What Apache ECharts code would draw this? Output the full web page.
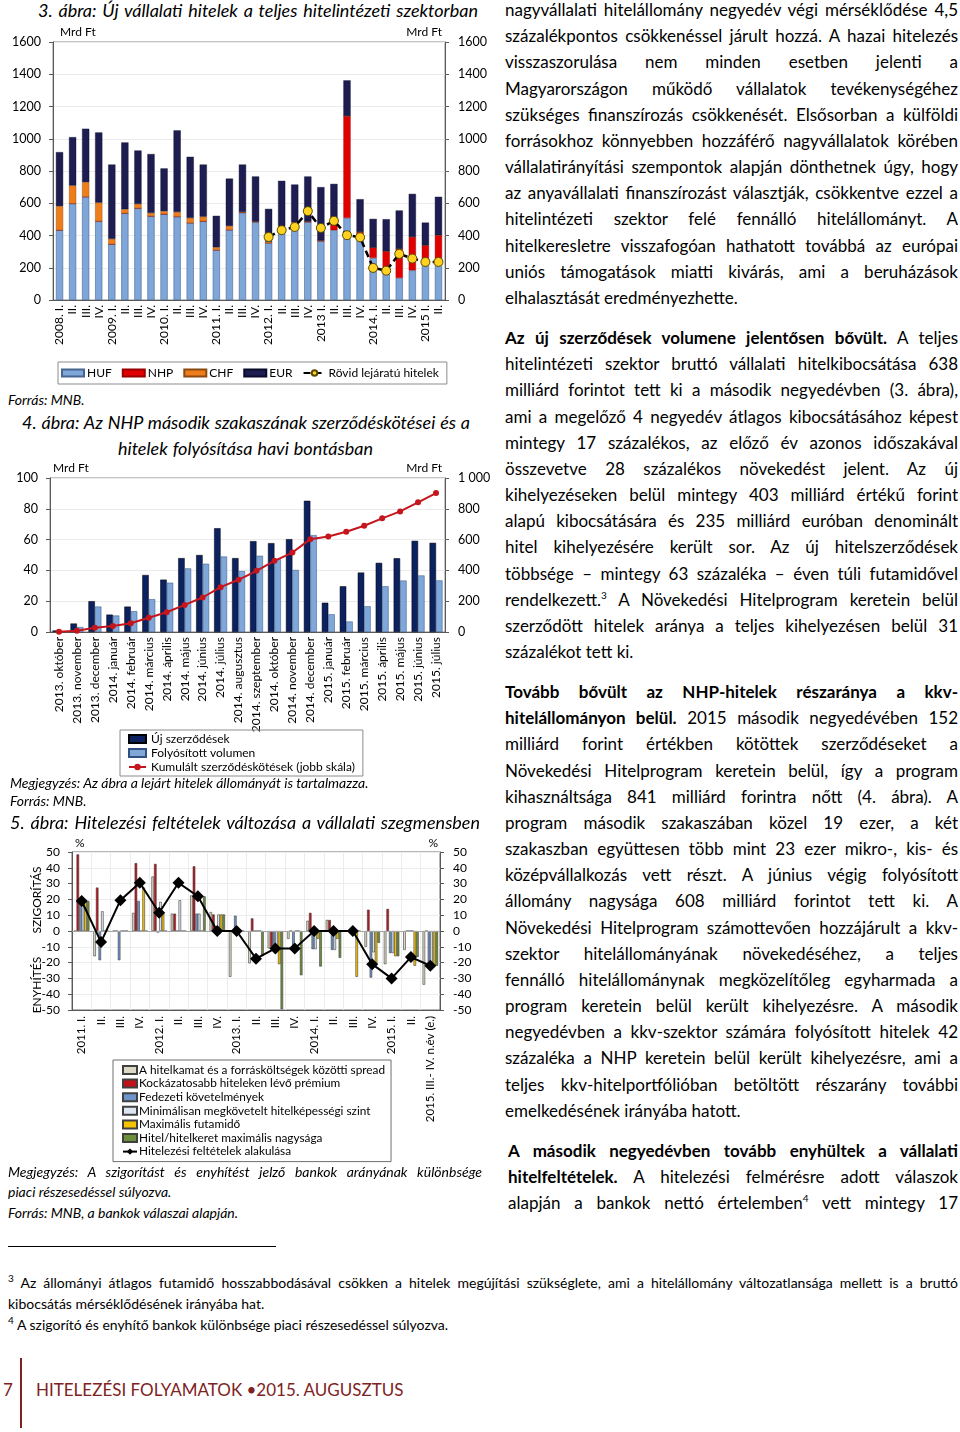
<!DOCTYPE html>
<html><head><meta charset="utf-8">
<script src="https://cdn.jsdelivr.net/npm/echarts@6/dist/echarts.min.js"></script>
<style>
html,body{margin:0;padding:0;background:#fff}
body{width:960px;height:1432px;position:relative;overflow:hidden;font-family:Lato,'Open Sans',sans-serif;color:#000}
.cap{position:absolute;font-style:italic;font-size:18px;line-height:20px;white-space:nowrap}
.note{position:absolute;font-style:italic;font-size:14px;line-height:16px;white-space:nowrap}
.j{text-align:justify;text-align-last:justify;white-space:normal}
.ln{position:absolute;left:505px;width:453px;font-size:17px;line-height:20px}
.ln.last{text-align:left;text-align-last:left}
.fn{position:absolute;font-size:14px;line-height:16px}
sup{font-size:10px;line-height:0;vertical-align:super}
.chart{position:absolute}
.foot{position:absolute;color:#7e2222;font-size:17px;line-height:20px}
</style></head>
<body>
<div class="cap j" style="left:38px;top:0px;width:440px">3. ábra: Új vállalati hitelek a teljes hitelintézeti szektorban</div>
<div id="c3" class="chart" style="left:0;top:25px;width:495px;height:362px"></div>
<div class="note" style="left:8px;top:392px">Forrás: MNB.</div>
<div class="cap j" style="left:22px;top:412px;width:448px">4. ábra: Az NHP második szakaszának szerződéskötései és a</div>
<div class="cap j" style="left:118px;top:438px;width:255px">hitelek folyósítása havi bontásban</div>
<div id="c4" class="chart" style="left:0;top:460px;width:495px;height:340px"></div>
<div class="note" style="left:10px;top:775px">Megjegyzés: Az ábra a lejárt hitelek állományát is tartalmazza.</div>
<div class="note" style="left:10px;top:793px">Forrás: MNB.</div>
<div class="cap j" style="left:10px;top:812px;width:470px">5. ábra: Hitelezési feltételek változása a vállalati szegmensben</div>
<div id="c5" class="chart" style="left:0;top:835px;width:495px;height:330px"></div>
<div class="note j" style="left:8px;top:1164px;width:474px">Megjegyzés: A szigorítást és enyhítést jelző bankok arányának különbsége</div>
<div class="note" style="left:8px;top:1184px">piaci részesedéssel súlyozva.</div>
<div class="note" style="left:8px;top:1205px">Forrás: MNB, a bankok válaszai alapján.</div>

<div id="txt"></div>

<div style="position:absolute;left:8px;top:1246px;width:268px;height:1px;background:#000"></div>
<div class="fn j" style="left:8px;top:1275px;width:950px"><sup>3</sup> Az állományi átlagos futamidő hosszabbodásával csökken a hitelek megújítási szükséglete, ami a hitelállomány változatlansága mellett is a bruttó</div>
<div class="fn" style="left:8px;top:1296px">kibocsátás mérséklődésének irányába hat.</div>
<div class="fn" style="left:8px;top:1317px"><sup>4</sup> A szigorító és enyhítő bankok különbsége piaci részesedéssel súlyozva.</div>

<div class="foot" style="left:3px;top:1380px">7</div>
<div style="position:absolute;left:20px;top:1358px;width:1.5px;height:70px;background:#7e2222"></div>
<div class="foot" style="left:36px;top:1380px">HITELEZÉSI FOLYAMATOK •2015. AUGUSZTUS</div>

<script>
// ---------- Chart 3 data ----------
const q3 = ['2008. I.','II.','III.','IV.','2009. I.','II.','III.','IV.','2010. I.','II.','III.','IV.','2011. I.','II.','III.','IV.','2012. I.','II.','III.','IV.','2013 I.','II.','III.','IV.','2014. I.','II.','III.','IV.','2015 I.','II.'];
const huf = [433,598,640,488,346,538,569,520,532,517,478,488,310,435,542,484,354,445,470,484,366,433,509,400,261,161,137,184,232,232];
const nhp = [0,0,0,0,0,0,0,0,0,0,0,0,0,0,0,0,0,0,0,0,0,51,632,22,64,141,180,207,107,170];
const chf = [149,112,91,116,33,25,27,20,19,29,31,29,17,24,4,3,8,12,12,3,3,0,0,0,0,0,0,0,0,0];
const eur = [335,300,331,435,461,414,331,365,265,506,379,323,195,294,294,279,203,282,234,279,331,236,221,203,178,199,238,267,141,238];
const rovid = [null,null,null,null,null,null,null,null,null,null,null,null,null,null,null,null,391,433,453,551,447,491,402,389,199,182,286,257,236,236];
const ticks3 = {min:0, max:1600, step:200};

// ---------- Chart 4 data ----------
const m4 = ['2013. október','2013. november','2013. december','2014. január','2014. február','2014. március','2014. április','2014. május','2014. június','2014. július','2014. augusztus','2014. szeptember','2014. október','2014. november','2014. december','2015. január','2015. február','2015. március','2015. április','2015. május','2015. június','2015. július'];
const ujSzerz = [1,5.5,20,11.3,16.5,37,34,48,50,67.4,48,59,57.7,60.3,85.2,19,29.7,38.6,44.9,47.9,59.2,57.9];
const folyos = [0.5,3.2,16.5,10.7,13.5,21.3,32,41.3,44.3,49,39.6,49.5,47.3,40.3,62.9,11.5,6.8,16.7,29.7,33.4,36.7,33.5];
const kumulalt = [1,8,28,39,57,93,128,176,224,291,339,397,462,516,603,620,651,690,738,783,842,902];

// ---------- Chart 5 data ----------
const q5 = ['2011. I.','II.','III.','IV.','2012. I.','II.','III.','IV.','2013. I.','II.','III.','IV.','2014. I.','II.','III.','IV.','2015. I.','II.','2015. III.- IV. n.év (e.)'];
const spread = [0,-16,0,11.5,34.5,11,22.5,12,-29,-20.5,-11,-5,6.5,7,0,-10,-21,-12,-34];
const premium = [48.5,27.5,0,43,42.5,11,41,10.5,0,8,-10,0,11.5,7,0,13.5,14,0,0];
const fedezeti = [21,-18.5,-18.5,19,-1,0,11,0,9.7,0,-11.5,-11,-11.5,-12,0,-29.5,-14,0,-22];
const minimal = [18,12.5,0,0,18.5,19.5,11,10.5,0,0,-12,0,-11.5,-12,0,-13.5,-14,0,-22];
const futamido = [19,0,0,27.5,11.5,0,0,10.5,0,0,-21,0,-5,-5,-29,-21,-16,-22,-22];
const hitelkeret = [19,0,0,0,0,0,22,10.5,0,-16,-49.5,-28,-22.5,-17,0,-7.5,-16,-16.5,-22];
const feltetelek = [19,-7,19.5,30.5,11.5,30.5,22,0,0,-17.5,-11,-11,0,0,0,-21,-30,-16.5,-22];

// ---------- right column text ----------
const para1 = ['nagyvállalati hitelállomány negyedév végi mérséklődése 4,5','százalékpontos csökkenéssel járult hozzá. A hazai hitelezés','visszaszorulása nem minden esetben jelenti a','Magyarországon működő vállalatok tevékenységéhez','szükséges finanszírozás csökkenését. Elsősorban a külföldi','forrásokhoz könnyebben hozzáférő nagyvállalatok körében','vállalatirányítási szempontok alapján dönthetnek úgy, hogy','az anyavállalati finanszírozást választják, csökkentve ezzel a','hitelintézeti szektor felé fennálló hitelállományt. A','hitelkeresletre visszafogóan hathatott továbbá az európai','uniós támogatások miatti kivárás, ami a beruházások','elhalasztását eredményezhette.'];
const para2 = ['<b>Az új szerződések volumene jelentősen bővült.</b> A teljes','hitelintézeti szektor bruttó vállalati hitelkibocsátása 638','milliárd forintot tett ki a második negyedévben (3. ábra),','ami a megelőző 4 negyedév átlagos kibocsátásához képest','mintegy 17 százalékos, az előző év azonos időszakával','összevetve 28 százalékos növekedést jelent. Az új','kihelyezéseken belül mintegy 403 milliárd értékű forint','alapú kibocsátására és 235 milliárd euróban denominált','hitel kihelyezésére került sor. Az új hitelszerződések','többsége – mintegy 63 százaléka – éven túli futamidővel','rendelkezett.<sup>3</sup> A Növekedési Hitelprogram keretein belül','szerződött hitelek aránya a teljes kihelyezésen belül 31','százalékot tett ki.'];
const para3 = ['<b>Tovább bővült az NHP-hitelek részaránya a kkv-</b>','<b>hitelállományon belül.</b> 2015 második negyedévében 152','milliárd forint értékben kötöttek szerződéseket a','Növekedési Hitelprogram keretein belül, így a program','kihasználtsága 841 milliárd forintra nőtt (4. ábra). A','program második szakaszában közel 19 ezer, a két','szakaszban együttesen több mint 23 ezer mikro-, kis- és','középvállalkozás vett részt. A június végig folyósított','állomány nagysága 608 milliárd forintot tett ki. A','Növekedési Hitelprogram számottevően hozzájárult a kkv-','szektor hitelállományának növekedéséhez, a teljes','fennálló hitelállománynak megközelítőleg egyharmada a','program keretein belül került kihelyezésre. A második','negyedévben a kkv-szektor számára folyósított hitelek 42','százaléka a NHP keretein belül került kihelyezésre, ami a','teljes kkv-hitelportfólióban betöltött részarány további','emelkedésének irányába hatott.'];
const para4 = ['<b>A második negyedévben tovább enyhültek a vállalati</b>','<b>hitelfeltételek.</b> A hitelezési felmérésre adott válaszok','alapján a bankok nettó értelemben<sup>4</sup> vett mintegy 17'];

(function(){
  const box = document.getElementById('txt');
  function put(lines, y0, lastJust, left){
    lines.forEach((t,i)=>{
      const d = document.createElement('div');
      const isLast = (i===lines.length-1) && !lastJust;
      d.className = 'ln j' + (isLast ? ' last' : '');
      d.style.top = (y0 + i*26.17 - 10) + 'px';
      if (left){ d.style.left = left+'px'; d.style.width = (958-left)+'px'; }
      d.innerHTML = t;
      box.appendChild(d);
    });
  }
  put(para1, 10, false);
  put(para2, 338, false);
  put(para3, 692, false);
  put(para4, 1151, true, 508);
})();

function fit(){
  document.querySelectorAll('.j').forEach(el=>{
    const h = parseFloat(getComputedStyle(el).lineHeight);
    let ls = 0;
    while (el.scrollHeight > h*1.4 && ls > -2){ ls -= 0.05; el.style.letterSpacing = ls+'px'; }
  });
}
fit();

const FF = 'Lato';
const axisCol = '#595959';
const plain = v => String(v);

// ---------- Chart 3 ----------
const c3 = echarts.init(document.getElementById('c3'));
c3.setOption({
  animation:false,
  textStyle:{fontFamily:FF},
  grid:{left:53,top:17,width:392,height:258,show:true,borderColor:'#8c8c8c',borderWidth:1},
  legend:{top:337,left:58,itemWidth:22,itemHeight:7,itemGap:10,padding:[5,8,5,3],borderColor:'#8c8c8c',borderWidth:1,
    textStyle:{fontSize:12,color:'#000',fontFamily:FF,padding:[0,0,0,-2]},
    data:[{name:'HUF',icon:'rect'},{name:'NHP',icon:'rect'},{name:'CHF',icon:'rect'},{name:'EUR',icon:'rect'},'Rövid lejáratú hitelek']},
  xAxis:{type:'category',data:q3,axisLine:{lineStyle:{color:axisCol}},axisTick:{length:4,lineStyle:{color:axisCol}},
    axisLabel:{rotate:90,interval:0,fontSize:12,color:'#000',margin:5,fontFamily:FF}},
  yAxis:[
    {type:'value',min:ticks3.min,max:ticks3.max,interval:ticks3.step,position:'left',
     axisLine:{show:true,lineStyle:{color:axisCol}},axisTick:{show:true,length:4,lineStyle:{color:axisCol}},
     axisLabel:{fontSize:12.5,color:'#000',margin:12,fontFamily:FF,formatter:plain},splitLine:{lineStyle:{color:'#ebebeb'}},
     name:'Mrd Ft',nameGap:4,nameTextStyle:{align:'left',padding:[0,0,0,7],fontSize:12,color:'#000',fontFamily:FF}},
    {type:'value',min:ticks3.min,max:ticks3.max,interval:ticks3.step,position:'right',
     axisLine:{show:true,lineStyle:{color:axisCol}},axisTick:{show:true,length:4,lineStyle:{color:axisCol}},
     axisLabel:{fontSize:12.5,color:'#000',margin:13,fontFamily:FF,formatter:plain},splitLine:{show:false},
     name:'Mrd Ft',nameGap:4,nameTextStyle:{align:'right',padding:[0,3,0,0],fontSize:12,color:'#000',fontFamily:FF}}
  ],
  series:[
    {name:'HUF',type:'bar',stack:'a',data:huf,barWidth:'55%',itemStyle:{color:'#7ea6d9',borderColor:'#47658f',borderWidth:0.6}},
    {name:'NHP',type:'bar',stack:'a',data:nhp,itemStyle:{color:'#e00000',borderColor:'#900',borderWidth:0.4}},
    {name:'CHF',type:'bar',stack:'a',data:chf,itemStyle:{color:'#ee7d1c',borderColor:'#8a4a10',borderWidth:0.4}},
    {name:'EUR',type:'bar',stack:'a',data:eur,itemStyle:{color:'#1d1d52',borderColor:'#0b0b2a',borderWidth:0.4}},
    {name:'Rövid lejáratú hitelek',type:'line',data:rovid,connectNulls:false,symbol:'circle',symbolSize:9,
     lineStyle:{color:'#000',width:2.5,type:[7,4]},itemStyle:{color:'#ffd21f',borderColor:'#5a4a00',borderWidth:1}}
  ]
});

// ---------- Chart 4 ----------
const c4 = echarts.init(document.getElementById('c4'));
c4.setOption({
  animation:false,
  textStyle:{fontFamily:FF},
  grid:{left:50,top:18,width:395,height:154,show:true,borderColor:'#8c8c8c',borderWidth:1},
  legend:{orient:'vertical',left:120,top:270,itemWidth:17,itemHeight:8,itemGap:2,padding:[3,8,3,8],borderColor:'#8c8c8c',borderWidth:1,
    textStyle:{fontSize:12,lineHeight:12,color:'#000',fontFamily:FF},
    data:[{name:'Új szerződések',icon:'rect'},{name:'Folyósított volumen',icon:'rect'},'Kumulált szerződéskötések (jobb skála)']},
  xAxis:{type:'category',data:m4,axisLine:{lineStyle:{color:axisCol}},axisTick:{length:4,lineStyle:{color:axisCol}},
    axisLabel:{rotate:90,interval:0,fontSize:12,color:'#000',margin:5,fontFamily:FF}},
  yAxis:[
    {type:'value',min:0,max:100,interval:20,position:'left',axisLine:{show:true,lineStyle:{color:axisCol}},axisTick:{show:true,length:4,lineStyle:{color:axisCol}},
     axisLabel:{fontSize:12.5,color:'#000',margin:12,fontFamily:FF,formatter:plain},splitLine:{lineStyle:{color:'#ebebeb'}},
     name:'Mrd Ft',nameGap:4,nameTextStyle:{align:'left',padding:[0,0,0,3],fontSize:12,color:'#000',fontFamily:FF}},
    {type:'value',min:0,max:1000,interval:200,position:'right',axisLine:{show:true,lineStyle:{color:axisCol}},axisTick:{show:true,length:4,lineStyle:{color:axisCol}},
     axisLabel:{fontSize:12.5,color:'#000',margin:13,fontFamily:FF,formatter:v=>v>=1000?String(v).replace(/\B(?=(\d{3})+(?!\d))/g,' '):String(v)},splitLine:{show:false},
     name:'Mrd Ft',nameGap:4,nameTextStyle:{align:'right',padding:[0,3,0,0],fontSize:12,color:'#000',fontFamily:FF}}
  ],
  series:[
    {name:'Új szerződések',type:'bar',data:ujSzerz,barGap:'0%',barCategoryGap:'28%',itemStyle:{color:'#0b2160',borderColor:'#000',borderWidth:0.5}},
    {name:'Folyósított volumen',type:'bar',data:folyos,itemStyle:{color:'#7fa7da',borderColor:'#30507f',borderWidth:0.5}},
    {name:'Kumulált szerződéskötések (jobb skála)',type:'line',yAxisIndex:1,data:kumulalt,symbol:'circle',symbolSize:6,
     lineStyle:{color:'#c4161c',width:2},itemStyle:{color:'#c4161c'}}
  ]
});

// ---------- Chart 5 ----------
const c5 = echarts.init(document.getElementById('c5'));
const bc = '#404040';
c5.setOption({
  animation:false,
  textStyle:{fontFamily:FF},
  grid:{left:72,top:17,width:368,height:158,show:true,borderColor:'#6f6f6f',borderWidth:1},
  legend:{orient:'vertical',left:113,top:225,itemWidth:14,itemHeight:8,itemGap:1.6,padding:[4,6,4,9],borderColor:'#6f6f6f',borderWidth:1,
    textStyle:{fontSize:11.8,lineHeight:12,color:'#000',fontFamily:FF,padding:[0,0,0,-3]},
    data:[{name:'A hitelkamat és a forrásköltségek közötti spread',icon:'rect'},{name:'Kockázatosabb hiteleken lévő prémium',icon:'rect'},
      {name:'Fedezeti követelmények',icon:'rect'},{name:'Minimálisan megkövetelt hitelképességi szint',icon:'rect'},
      {name:'Maximális futamidő',icon:'rect'},{name:'Hitel/hitelkeret maximális nagysága',icon:'rect'},'Hitelezési feltételek alakulása']},
  graphic:[
    {type:'text',x:37,y:65,rotation:Math.PI/2,style:{text:'SZIGORÍTÁS',fontSize:12,fontFamily:FF,fill:'#000',align:'center',verticalAlign:'middle'}},
    {type:'text',x:37,y:150,rotation:Math.PI/2,style:{text:'ENYHÍTÉS',fontSize:12,fontFamily:FF,fill:'#000',align:'center',verticalAlign:'middle'}}
  ],
  xAxis:{type:'category',data:q5,axisLine:{onZero:false,lineStyle:{color:axisCol}},axisTick:{show:false},
    splitLine:{show:true,lineStyle:{color:'#ececec'}},
    axisLabel:{rotate:90,interval:0,fontSize:11.5,color:'#000',margin:6,fontFamily:FF}},
  yAxis:[
    {type:'value',min:-50,max:50,interval:10,position:'left',axisLine:{show:true,lineStyle:{color:axisCol}},axisTick:{show:true,length:4,lineStyle:{color:axisCol}},
     axisLabel:{fontSize:12,color:'#000',margin:12,fontFamily:FF},splitLine:{lineStyle:{color:'#ececec'}},
     name:'%',nameGap:3,nameTextStyle:{align:'left',padding:[0,0,0,3],fontSize:12,color:'#000',fontFamily:FF}},
    {type:'value',min:-50,max:50,interval:10,position:'right',axisLine:{show:true,lineStyle:{color:axisCol}},axisTick:{show:true,length:4,lineStyle:{color:axisCol}},
     axisLabel:{fontSize:12,color:'#000',margin:13,fontFamily:FF},splitLine:{show:false},
     name:'%',nameGap:3,nameTextStyle:{align:'right',padding:[0,2,0,0],fontSize:12,color:'#000',fontFamily:FF}}
  ],
  series:[
    {name:'A hitelkamat és a forrásköltségek közötti spread',type:'bar',data:spread,barGap:'0%',barCategoryGap:'20%',itemStyle:{color:'#ddd8c4',borderColor:bc,borderWidth:0.6}},
    {name:'Kockázatosabb hiteleken lévő prémium',type:'bar',data:premium,itemStyle:{color:'#c0121b',borderColor:bc,borderWidth:0.6}},
    {name:'Fedezeti követelmények',type:'bar',data:fedezeti,itemStyle:{color:'#6e95ca',borderColor:bc,borderWidth:0.6}},
    {name:'Minimálisan megkövetelt hitelképességi szint',type:'bar',data:minimal,itemStyle:{color:'#dce6f2',borderColor:bc,borderWidth:0.6}},
    {name:'Maximális futamidő',type:'bar',data:futamido,itemStyle:{color:'#f5c400',borderColor:bc,borderWidth:0.6}},
    {name:'Hitel/hitelkeret maximális nagysága',type:'bar',data:hitelkeret,itemStyle:{color:'#6e8f3a',borderColor:bc,borderWidth:0.6}},
    {name:'Hitelezési feltételek alakulása',type:'line',data:feltetelek,symbol:'diamond',symbolSize:12,z:5,
     lineStyle:{color:'#000',width:2},itemStyle:{color:'#000'},
     markLine:{silent:true,symbol:'none',label:{show:false},lineStyle:{color:'#a6a6a6',type:'solid',width:1},data:[{yAxis:0}]}}
  ]
});
</script>
</body></html>
